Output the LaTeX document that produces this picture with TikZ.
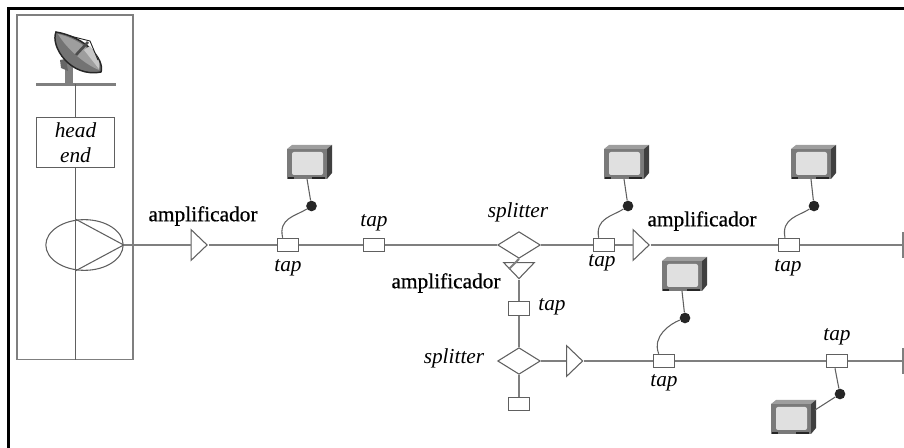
\documentclass[tikz,border=0pt]{standalone}
\usepackage{fontspec}
\setmainfont{Liberation Serif}
\newfontfamily\ampfont[FakeBold=0.6]{Liberation Serif}
\usetikzlibrary{shapes.geometric,calc}
\definecolor{wiregray}{HTML}{7F7F7F}
\definecolor{boxgray}{HTML}{606060}
\tikzset{
	wire/.style={line width=1.5pt,color=wiregray},
	thinwire/.style={line width=0.8pt,color=boxgray},
	tapbox/.style={draw=boxgray,fill=white,line width=0.9pt,minimum width=16pt,minimum height=10pt,inner sep=0},
	splitbox/.style={diamond,draw=boxgray,fill=white,line width=0.8pt,minimum width=32pt,minimum height=20pt,inner sep=0},
	amp/.style={isosceles triangle,isosceles triangle stretches,draw=boxgray,fill=white,line width=0.8pt,minimum width=23pt,minimum height=12pt,inner sep=0,anchor=apex},
	dotnode/.style={circle,fill=black!85,minimum size=8pt,inner sep=0},
	taplabel/.style={font=\itshape\fontsize{16}{19}\selectfont,inner sep=0},
	amplabel/.style={font=\ampfont\fontsize{16}{19}\selectfont,inner sep=0},
	tv/.pic={
		\fill [black!38] (0,4) -- (5,0) -- (45,0) -- (40,4) -- cycle;
		\fill [black!75] (40,4) -- (45,0) -- (45,28) -- (40,34) -- cycle;
		\fill [black!52] (0,4) rectangle (40,34);
		\fill [black!12,rounded corners=1.5pt] (5,7) rectangle (36,30);
		\fill [black!85] (1,32) rectangle (7,34);
		\fill [black!85] (25,32) rectangle (38,34);
		\coordinate (-base) at (20,34);
		\coordinate (-side) at (44,10);
	}
}
\begin{document}
\begin{tikzpicture}[x=0.75pt,y=-0.75pt]
	\useasboundingbox (0,0) rectangle (904,448);
	\draw [line width=2.25pt,line cap=rect] (8.5,448) -- (8.5,8.5) -- (904,8.5);

	% head end column
	\node [draw=wiregray,line width=1pt,minimum width=87pt,minimum height=258.5pt,inner sep=0] (rack) at (75,187.5) {};
	\draw [wiregray,line width=2.25pt] (36,84.5) -- (116,84.5);
	\fill [wiregray] (65,62) rectangle (72.5,84);
	\fill [black!60] (60,60) -- (66,59) -- (68,71) -- (61,68) -- cycle;
	\draw [black!85,line width=1.1pt,fill=black!55] (56,32) .. controls (50,46) and (70,78) .. (101,72) .. controls (105,60) and (86,37) .. (56,32) -- cycle;
	\fill [black!38] (58,34) .. controls (66,48) and (84,64) .. (99,70) .. controls (102,60) and (84,40) .. (58,34) -- cycle;
	\fill [black!22] (84,50) -- (90,46) .. controls (96,54) and (101,62) .. (99,69) -- cycle;
	\draw [black!70,line width=2pt] (76,55) -- (88,42);
	\draw [black!85,line width=0.7pt] (70,36) -- (90,41) -- (98,60);
	\node [draw=boxgray,fill=white,line width=0.8pt,minimum width=58.5pt,minimum height=38pt,inner sep=0,align=center,taplabel] (headend) at (75.5,142.5) {head\\end};
	\coordinate (dishfoot) at (headend.north |- 0,84.5);
	\draw [thinwire] (dishfoot) -- (headend.north);
	\node [ellipse,draw=boxgray,line width=0.8pt,minimum width=58pt,minimum height=38pt,inner sep=0] (pump) at (84.5,245) {};
	\draw [thinwire] (headend.south) -- (headend.south |- rack.south);
	\draw [thinwire] (pump.north -| headend.south) -- (pump.east) -- (pump.south -| headend.south);

	% taps, splitters and amplifiers
	\node [amp] (ampA) at (208.5,245) {};
	\node [amp] (ampB) at (650.5,245) {};
	\node [amp] (ampC) at (584,361) {};
	\node [amp,shape border rotate=-90,anchor=apex] (ampD) at (519,280) {};
	\foreach \q/\x/\y in {A/288/245,B/374/245,C/604/245,D/789/245,E/519/308.5,F/519/404,G/664/361,H/837/361} {
		\node [tapbox] (tap\q) at (\x,\y) {};
	}
	\node [splitbox] (splitA) at (519,245) {};
	\node [splitbox] (splitB) at (519,361) {};
	\coordinate (endA) at (903,245);
	\coordinate (endB) at (903,361);
	\draw [wire] (endA) ++(0,-13) -- ++(0,26);
	\draw [wire] (endB) ++(0,-13) -- ++(0,26);

	\foreach \a/\b in {pump.east/ampA.west,ampA.apex/tapA.west,tapA.east/tapB.west,tapB.east/splitA.west,splitA.east/tapC.west,tapC.east/ampB.west,ampB.apex/tapD.west,tapD.east/endA,ampC.apex/tapG.west,tapG.east/tapH.west,tapH.east/endB,splitB.east/ampC.west} {
		\draw [wire] (\a) -- (\b);
	}
	\draw [wire] (splitA.south) -- (ampD.west);
	\draw [wire] (ampD.apex) -- (tapE.north);
	\draw [wire] (tapE.south) -- (splitB.north);
	\draw [wire] (splitB.south) -- (tapF.north);

	% sets on the taps
	\pic (tvA) at (287,145) {tv};
	\pic (tvB) at (604,145) {tv};
	\pic (tvC) at (791,145) {tv};
	\pic (tvD) at (662,257) {tv};
	\pic (tvE) at (771,400) {tv};
	\node [dotnode] (dotA) at (311.5,206) {};
	\node [dotnode] (dotB) at (628,206) {};
	\node [dotnode] (dotC) at (814,206) {};
	\node [dotnode] (dotD) at (685,318) {};
	\node [dotnode] (dotE) at (840,394) {};
	\foreach \q in {A,B,C,D} {
		\draw [thinwire] (tv\q-base) -- (dot\q);
	}
	\draw [thinwire] (tvE-side) -- (dotE);
	\draw [thinwire] (dotE) .. controls (838,384) .. ([xshift=-1.5pt]tapH.south);
	\draw [thinwire] (dotA) .. controls (296,216) and (278,218) .. ([xshift=-4pt]tapA.north);
	\draw [thinwire] (dotB) .. controls (613,216) and (595,218) .. ([xshift=-4pt]tapC.north);
	\draw [thinwire] (dotC) .. controls (799,216) and (781,218) .. ([xshift=-3pt]tapD.north);
	\draw [thinwire] (dotD) .. controls (670,324) and (652,336) .. ([xshift=-4pt]tapG.north);

	% labels
	\foreach \q/\x/\y in {a/288/268,b/374/223,c/602/263,d/788/268,e/552/307,f/664/383,g/837/337} {
		\node [taplabel] (label\q) at (\x,\y) {tap};
	}
	\node [taplabel] (labelsplitA) at (518,212) {splitter};
	\node [taplabel] (labelsplitB) at (454,358) {splitter};
	\node [amplabel] (labelampA) at (203,216) {amplificador};
	\node [amplabel] (labelampB) at (702,221) {amplificador};
	\node [amplabel] (labelampD) at (446,283) {amplificador};
\end{tikzpicture}
\end{document}
